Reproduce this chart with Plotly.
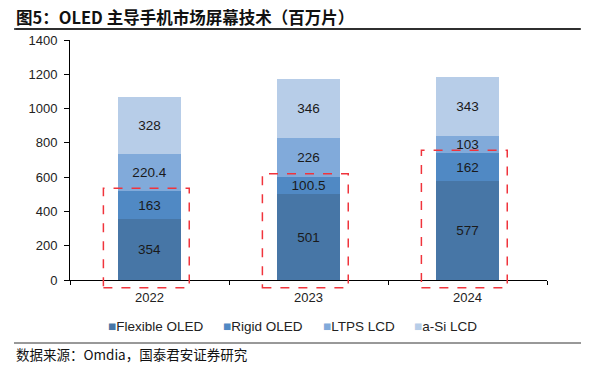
import plotly.graph_objects as go

years = ["2022", "2023", "2024"]
flexible_oled = [354, 501, 577]
rigid_oled = [163, 100.5, 162]
ltps_lcd = [220.4, 226, 103]
asi_lcd = [328, 346, 343]
series_names = ["Flexible OLED", "Rigid OLED", "LTPS LCD", "a-Si LCD"]
y_ticks = [0, 200, 400, 600, 800, 1000, 1200, 1400]

colors = ["#4776A6", "#5089C4", "#81AADA", "#B7CDE8"]
series = [flexible_oled, rigid_oled, ltps_lcd, asi_lcd]
y_max = 1400

fig = go.Figure()
for name, vals, c in zip(series_names, series, colors):
    fig.add_trace(go.Bar(
        x=years, y=vals, name=name, marker=dict(color=c, line=dict(width=0)),
        text=[f"{v:g}" for v in vals], textposition="inside", insidetextanchor="middle",
        textfont=dict(family="Liberation Sans, Arial", size=13.5, color="#1a1a1a"),
        constraintext="none", showlegend=False, hoverinfo="skip",
    ))

# red dashed boxes around OLED parts (extend below the axis)
for i in range(len(years)):
    top = flexible_oled[i] + rigid_oled[i] + 18
    fig.add_shape(type="rect", xref="x", yref="paper", x0=i - 0.29, x1=i + 0.25,
                  y0=-45 / y_max, y1=top / y_max,
                  line=dict(color="#F0343C", width=1.5, dash="dash"), layer="above")

# The page body has an 8px margin, so the figure is sized to fit inside the 589x372 window
fig.update_layout(
    barmode="stack", bargap=0.6,
    width=573, height=356,
    margin=dict(l=62, r=34, t=32, b=84),
    plot_bgcolor="white", paper_bgcolor="white",
    font=dict(family="Liberation Sans, Arial", size=12, color="#222"),
    showlegend=False,
)
fig.update_xaxes(showline=True, linecolor="black", linewidth=1, ticks="outside",
                 tickson="boundaries", ticklen=4, tickcolor="black", ticklabelstandoff=5,
                 tickfont=dict(size=13, color="#222"), showgrid=False)
fig.update_yaxes(range=[0, y_max], tickvals=y_ticks, showline=True, linecolor="black",
                 linewidth=1, ticks="outside", ticklen=5, tickcolor="black", ticklabelstandoff=4,
                 tickfont=dict(size=13, color="#222"), showgrid=False, zeroline=False)

# helpers: reference-window pixels -> paper coordinates (plot area 477x240)
plot_l, plot_w = 70, 477
def px(x):
    return (x - plot_l) / plot_w
def py(y):
    return (280 - y) / 240

# manual legend (real text)
legend_x = [106, 221, 321, 412]
for name, c, lx in zip(series_names, colors, legend_x):
    fig.add_annotation(xref="paper", yref="paper", x=px(lx), y=py(326),
                       xanchor="left", yanchor="middle", showarrow=False,
                       text=f"<span style='color:{c}'>■</span>{name}",
                       font=dict(family="Liberation Sans, Arial", size=13.5, color="#222"))

# rules
fig.add_shape(type="line", xref="paper", yref="paper", x0=px(14), x1=px(589),
              y0=py(29), y1=py(29), line=dict(color="#222", width=1.3))
fig.add_annotation(xref="paper", yref="paper", x=px(589), y=py(29), text=" ",
                   showarrow=True, arrowhead=0, arrowwidth=1.3, arrowcolor="#222",
                   axref="pixel", ayref="pixel", ax=-575, ay=0, standoff=0, startstandoff=0,
                   font=dict(size=1))
fig.add_shape(type="line", xref="paper", yref="paper", x0=px(14), x1=px(589),
              y0=py(343), y1=py(343), line=dict(color="#333", width=1))

# title and source
fig.add_annotation(xref="paper", yref="paper", x=px(14), y=py(17),
                   xanchor="left", yanchor="middle", bgcolor="rgba(0,0,0,0)",
                   text="<b>图5：OLED 主导手机市场屏幕技术（百万片）</b>", showarrow=False,
                   font=dict(family="Noto Sans CJK SC", size=16.5, color="#111"))
fig.add_annotation(xref="paper", yref="paper", x=px(14), y=py(354),
                   xanchor="left", yanchor="middle",
                   text="数据来源：Omdia，国泰君安证券研究", showarrow=False,
                   font=dict(family="Noto Sans CJK SC", size=13.5, color="#111"))

fig.write_html("out.html", config={"displayModeBar": False})
